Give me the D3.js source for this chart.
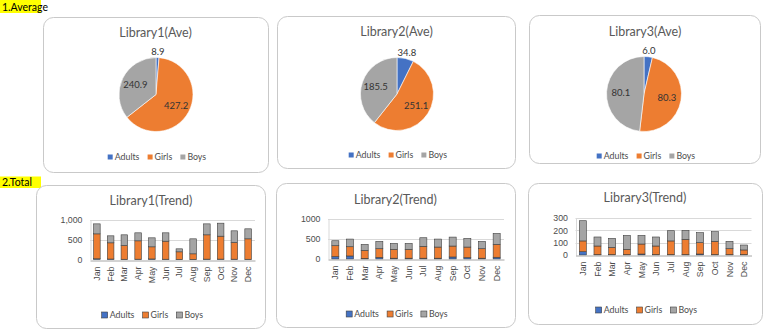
<!DOCTYPE html>
<html>
<head>
<meta charset="utf-8">
<script src="https://cdn.jsdelivr.net/npm/d3@7"></script>
<style>
  body { margin: 0; background: #fff; }
  svg { display: block; font-family: Lato, "Open Sans", sans-serif; }
</style>
</head>
<body>
<svg id="chart" width="771" height="330"></svg>
<script>
// ---- data ----
const seriesNames = ["Adults", "Girls", "Boys"];
const seriesColors = ["#4472C4", "#ED7D31", "#A5A5A5"];
const months = ["Jan", "Feb", "Mar", "Apr", "May", "Jun", "Jul", "Aug", "Sep", "Oct", "Nov", "Dec"];

// averages (Adults, Girls, Boys)
const lib1Ave = [8.9, 427.2, 240.9];
const lib2Ave = [34.8, 251.1, 185.5];
const lib3Ave = [6.0, 80.3, 80.1];

// monthly totals
const lib1Adults = [18, 12, 6, 8, 14, 7, 4, 5, 9, 10, 8, 6];
const lib1Girls  = [623, 405, 344, 459, 303, 451, 188, 137, 608, 573, 417, 511];
const lib1Boys   = [250, 175, 267, 200, 225, 209, 75, 375, 274, 325, 292, 250];

const lib2Adults = [60, 75, 15, 40, 20, 20, 20, 20, 50, 35, 20, 43];
const lib2Girls  = [268, 228, 198, 214, 218, 218, 292, 275, 270, 260, 234, 318];
const lib2Boys   = [123, 189, 148, 181, 147, 147, 213, 197, 221, 213, 181, 270];

const lib3Adults = [27, 3, 3, 3, 8, 3, 3, 3, 8, 3, 3, 3];
const lib3Girls  = [87, 70, 59, 43, 81, 70, 111, 124, 92, 108, 48, 38];
const lib3Boys   = [164, 73, 73, 113, 70, 73, 83, 73, 81, 78, 60, 40];

const lib1Ticks = [0, 500, 1000];
const lib2Ticks = [0, 500, 1000];
const lib3Ticks = [0, 100, 200, 300];

// ---- drawing ----
const svg = d3.select("#chart");
const TITLE_COLOR = "#595959";
const TEXT_COLOR = "#4D4D4D";
const LABEL_COLOR = "#333333";

function sectionHeader(text, x, y, w, h, baseline) {
  svg.append("rect").attr("x", x).attr("y", y).attr("width", w).attr("height", h).attr("fill", "#FFFF00");
  svg.append("text").attr("x", x + 2).attr("y", baseline).attr("font-size", 10.5)
    .attr("fill", "#000").text(text);
}

function panel(x, y, w, h) {
  svg.append("rect").attr("x", x + 0.5).attr("y", y + 0.5).attr("width", w).attr("height", h)
    .attr("rx", 10).attr("ry", 10).attr("fill", "#fff").attr("stroke", "#C9C9C9").attr("stroke-width", 1);
}

function title(text, cx, baseline) {
  svg.append("text").attr("x", cx).attr("y", baseline).attr("text-anchor", "middle")
    .attr("font-size", 12.5).attr("fill", TITLE_COLOR).text(text);
}

function legend(cx, cy, boxed) {
  const g = svg.append("g");
  const items = g.selectAll("g").data(seriesNames).join("g");
  const box = boxed ? 6 : 5;
  items.append("rect").attr("width", box).attr("height", box).attr("y", -box / 2)
    .attr("fill", (d, i) => seriesColors[i])
    .attr("stroke", boxed ? "#404040" : "none").attr("stroke-width", 0.6);
  items.append("text").attr("x", box + 2).attr("dy", "0.35em").attr("font-size", 8.8)
    .attr("fill", TEXT_COLOR).text(d => d);
  let xPos = 0;
  items.each(function () {
    d3.select(this).attr("transform", `translate(${xPos},0)`);
    xPos += this.getBBox().width + 8;
  });
  const total = xPos - 8;
  g.attr("transform", `translate(${cx - total / 2},${cy})`);
}

function drawPie(cfg) {
  panel(...cfg.panel);
  title(cfg.title, cfg.titleX, cfg.titleY);
  const pie = d3.pie().sort(null).value(d => d);
  const arcs = pie(cfg.values);
  const arc = d3.arc().innerRadius(0).outerRadius(cfg.r);
  const inside = d3.arc().innerRadius(cfg.r * 0.62).outerRadius(cfg.r * 0.62);
  const outside = d3.arc().innerRadius(cfg.r * 1.17).outerRadius(cfg.r * 1.17);
  const g = svg.append("g").attr("transform", `translate(${cfg.cx},${cfg.cy})`);
  g.selectAll("path").data(arcs).join("path")
    .attr("d", arc).attr("fill", (d, i) => seriesColors[i])
    .attr("stroke", "#fff").attr("stroke-width", 0.6);
  g.selectAll("text").data(arcs).join("text")
    .attr("transform", (d, i) => `translate(${(i === 0 ? outside : inside).centroid(d)})`)
    .attr("text-anchor", "middle").attr("dy", "0.35em")
    .attr("font-size", 9.5).attr("fill", LABEL_COLOR)
    .text(d => d.value.toFixed(1));
  legend(cfg.legendX, cfg.legendY, false);
}

function drawBars(cfg) {
  panel(...cfg.panel);
  title(cfg.title, cfg.titleX, cfg.titleY);
  const x = d3.scaleBand().domain(months).range([cfg.x0, cfg.x1])
    .paddingInner(0.52).paddingOuter(0.26);
  const y = d3.scaleLinear().domain([0, cfg.ticks[cfg.ticks.length - 1]]).range([cfg.y0, cfg.y1]);
  const g = svg.append("g");

  // horizontal gridlines
  g.selectAll("line.grid").data(cfg.ticks.slice(1)).join("line").attr("class", "grid")
    .attr("x1", cfg.x0).attr("x2", cfg.x1)
    .attr("y1", d => Math.round(y(d)) + 0.5).attr("y2", d => Math.round(y(d)) + 0.5)
    .attr("stroke", "#D9D9D9").attr("stroke-width", 1);

  // stacked bars
  const rows = months.map((m, i) => ({
    month: m, Adults: cfg.adults[i], Girls: cfg.girls[i], Boys: cfg.boys[i]
  }));
  const stacked = d3.stack().keys(seriesNames)(rows);
  g.selectAll("g.layer").data(stacked).join("g").attr("class", "layer")
    .attr("fill", (d, i) => seriesColors[i])
    .selectAll("rect").data(d => d).join("rect")
    .attr("x", d => x(d.data.month)).attr("width", x.bandwidth())
    .attr("y", d => y(d[1])).attr("height", d => y(d[0]) - y(d[1]))
    .attr("stroke", "#3F3F3F").attr("stroke-width", 0.6);

  // y axis
  const yAxis = g.append("g").attr("transform", `translate(${cfg.x0 + 0.5},0)`)
    .call(d3.axisLeft(y).tickValues(cfg.ticks).tickFormat(cfg.fmt).tickSize(0).tickPadding(8));
  yAxis.select(".domain").attr("stroke", "#D9D9D9");
  yAxis.selectAll("text").attr("font-size", 8.8).attr("fill", TEXT_COLOR).attr("font-family", null);

  // x axis with vertical month labels
  const xAxis = g.append("g").attr("transform", `translate(0,${Math.round(cfg.y0) + 0.5})`)
    .call(d3.axisBottom(x).tickSize(0).tickSizeOuter(0));
  xAxis.select(".domain").attr("stroke", "#A6A6A6");
  xAxis.selectAll("text").attr("font-size", 8.8).attr("fill", TEXT_COLOR).attr("font-family", null)
    .attr("transform", "rotate(-90)").attr("text-anchor", "end")
    .attr("x", -6).attr("y", 0).attr("dy", "0.35em");

  legend(cfg.legendX, cfg.legendY, true);
}

// ---- sections ----
sectionHeader("1.Average", 0, 0, 41, 13, 10.5);
sectionHeader("2.Total", 0, 176.5, 41, 11.5, 186);

drawPie({ panel: [43, 17, 225, 155], title: "Library1(Ave)", titleX: 155.5, titleY: 37.3,
  values: lib1Ave, cx: 156, cy: 94.5, r: 37, legendX: 157, legendY: 157 });
drawPie({ panel: [277, 16, 238, 152], title: "Library2(Ave)", titleX: 396.5, titleY: 36,
  values: lib2Ave, cx: 397, cy: 94, r: 36.5, legendX: 398, legendY: 155 });
drawPie({ panel: [529, 15, 231, 148], title: "Library3(Ave)", titleX: 645, titleY: 36,
  values: lib3Ave, cx: 644, cy: 94, r: 37.5, legendX: 646, legendY: 156 });

drawBars({ panel: [36, 185, 229, 143], title: "Library1(Trend)", titleX: 151, titleY: 205,
  adults: lib1Adults, girls: lib1Girls, boys: lib1Boys, ticks: lib1Ticks, fmt: d3.format(","),
  x0: 90, x1: 255, y0: 259.5, y1: 219.5, legendX: 152.5, legendY: 315 });
drawBars({ panel: [276, 183, 239, 144], title: "Library2(Trend)", titleX: 395.5, titleY: 204,
  adults: lib2Adults, girls: lib2Girls, boys: lib2Boys, ticks: lib2Ticks, fmt: d3.format("d"),
  x0: 328, x1: 504, y0: 259, y1: 218.5, legendX: 397, legendY: 314 });
drawBars({ panel: [528, 183, 234, 141], title: "Library3(Trend)", titleX: 645, titleY: 202,
  adults: lib3Adults, girls: lib3Girls, boys: lib3Boys, ticks: lib3Ticks, fmt: d3.format("d"),
  x0: 575.5, x1: 751.5, y0: 255, y1: 218, legendX: 646.5, legendY: 310 });
</script>
</body>
</html>
